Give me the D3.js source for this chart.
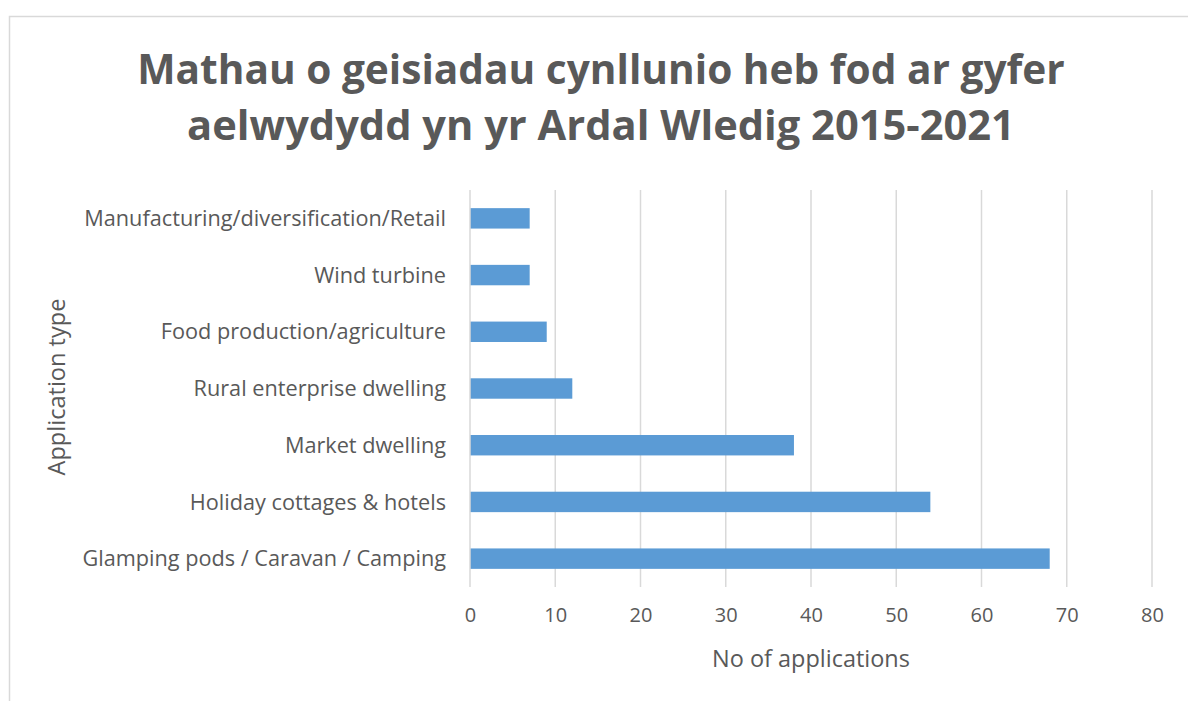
<!DOCTYPE html>
<html>
<head>
<meta charset="utf-8">
<script src="https://cdn.jsdelivr.net/npm/d3@7"></script>
<style>
  html, body { margin: 0; padding: 0; background: #fff; }
  svg { display: block; }
</style>
</head>
<body>
<div id="chart"></div>
<script>
// data
const titleLines = ["Mathau o geisiadau cynllunio heb fod ar gyfer", "aelwydydd yn yr Ardal Wledig 2015-2021"];
const categories = [
  "Manufacturing/diversification/Retail",
  "Wind turbine",
  "Food production/agriculture",
  "Rural enterprise dwelling",
  "Market dwelling",
  "Holiday cottages & hotels",
  "Glamping pods / Caravan / Camping"
];
const values = [7, 7, 9, 12, 38, 54, 68];
const xTicks = [0, 10, 20, 30, 40, 50, 60, 70, 80];
const xTitle = "No of applications";
const yTitle = "Application type";

const width = 1188, height = 701;
const margin = { top: 190, right: 36, bottom: 114, left: 470 };
const font = "'Open Sans', 'Noto Sans', sans-serif";
const textColor = "#595959";

const svg = d3.select("#chart").append("svg")
  .attr("width", width)
  .attr("height", height)
  .attr("viewBox", `0 0 ${width} ${height}`);

// chart border (top and left visible)
svg.append("path")
  .attr("d", `M9.5,${height} V16.5 H${width}`)
  .attr("fill", "none")
  .attr("stroke", "#d9d9d9")
  .attr("stroke-width", 1.5);

// scale text font size so it reaches a target width
function fitText(sel, targetW) {
  const w = sel.node().getComputedTextLength();
  const fs = parseFloat(sel.attr("font-size"));
  sel.attr("font-size", fs * targetW / w);
  return fs * targetW / w;
}

// title
const titleY = [84, 140];
const titleW = [928, 828];
titleLines.forEach((t, i) => {
  const tt = svg.append("text")
    .attr("x", 601)
    .attr("y", titleY[i])
    .attr("text-anchor", "middle")
    .attr("font-family", font)
    .attr("font-weight", "bold")
    .attr("font-size", 40)
    .attr("fill", textColor)
    .text(t);
  fitText(tt, titleW[i]);
});

const innerW = width - margin.left - margin.right;
const innerH = height - margin.top - margin.bottom;
const g = svg.append("g").attr("transform", `translate(${margin.left},${margin.top})`);

const x = d3.scaleLinear().domain([0, 80]).range([0, 682]);
const y = d3.scaleBand().domain(categories).range([0, innerH]).paddingInner(0.64).paddingOuter(0.32);

// gridlines
g.selectAll(".grid")
  .data(xTicks.slice(1))
  .enter().append("line")
  .attr("x1", d => x(d)).attr("x2", d => x(d))
  .attr("y1", 0).attr("y2", innerH)
  .attr("stroke", "#d9d9d9")
  .attr("stroke-width", 1.5);

// bars
g.selectAll(".bar")
  .data(categories)
  .enter().append("rect")
  .attr("x", x(0))
  .attr("y", d => y(d))
  .attr("width", (d, i) => x(values[i]) - x(0))
  .attr("height", y.bandwidth())
  .attr("fill", "#5b9bd5");

// vertical category axis line
g.append("line")
  .attr("x1", 0).attr("x2", 0)
  .attr("y1", 0).attr("y2", innerH)
  .attr("stroke", "#d9d9d9")
  .attr("stroke-width", 1.5);

// category labels: size from the longest label's width
const probe = g.append("text")
  .attr("font-family", font).attr("font-size", 18)
  .text(categories[0]);
const catSize = fitText(probe, 362);
probe.remove();

g.selectAll(".cat")
  .data(categories)
  .enter().append("text")
  .attr("x", -24)
  .attr("y", d => y(d) + y.bandwidth() / 2)
  .attr("dy", "0.35em")
  .attr("text-anchor", "end")
  .attr("font-family", font)
  .attr("font-size", catSize)
  .attr("fill", textColor)
  .text(d => d);

// x tick labels
const xAxis = g.append("g")
  .attr("transform", `translate(0,${innerH})`)
  .call(d3.axisBottom(x).tickValues(xTicks).tickSize(0).tickPadding(21));
xAxis.select(".domain").remove();
xAxis.selectAll("text")
  .attr("font-family", font)
  .attr("font-size", 20)
  .attr("fill", textColor);

// axis titles
const xt = svg.append("text")
  .attr("x", 811)
  .attr("y", 667)
  .attr("text-anchor", "middle")
  .attr("font-family", font)
  .attr("font-size", 19)
  .attr("fill", textColor)
  .text(xTitle);
fitText(xt, 198);

const yt = svg.append("text")
  .attr("transform", `translate(65,387) rotate(-90)`)
  .attr("text-anchor", "middle")
  .attr("font-family", font)
  .attr("font-size", 19)
  .attr("fill", textColor)
  .text(yTitle);
fitText(yt, 177);
</script>
</body>
</html>
